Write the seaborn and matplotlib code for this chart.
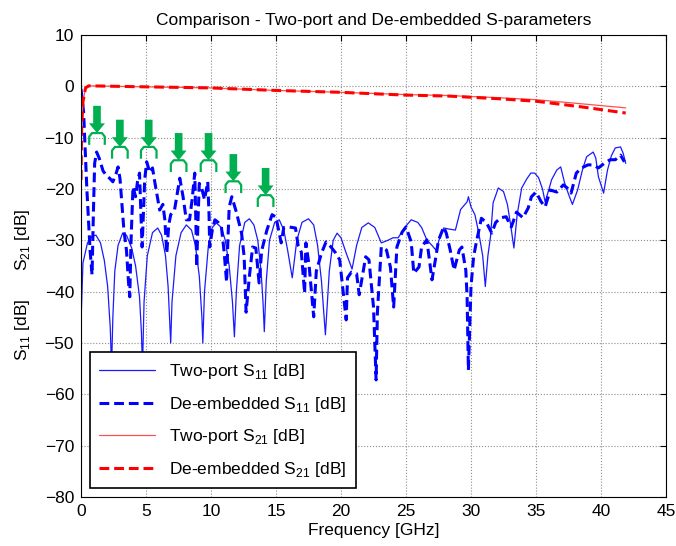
import numpy as np
import pandas as pd
import matplotlib
matplotlib.use("Agg")
import matplotlib.pyplot as plt
import seaborn as sns

# ---------------- data ----------------
f_s11_tp = [0, 0.15, 0.5, 0.85, 1.15, 1.5, 1.8, 2.05, 2.25, 2.35,
            2.45, 2.6, 2.85, 3.2, 3.5, 3.9, 4.2, 4.5, 4.65, 4.73,
            4.85, 5.1, 5.5, 5.9, 6.2, 6.5, 6.7, 6.85, 6.9,
            7.0, 7.3, 7.7, 8.1, 8.5, 8.8, 9.1, 9.3, 9.37,
            9.5, 9.8, 10.1, 10.4, 10.8, 11.1, 11.4, 11.65, 11.8,
            11.95, 12.2, 12.6, 12.95, 13.3, 13.6, 13.85, 14.0, 14.1,
            14.25, 14.5, 14.9, 15.25, 15.6, 15.9, 16.25,
            16.6, 17.0, 17.5, 17.9, 18.2, 18.5, 18.8, 19.1, 19.4, 19.7,
            20.0, 20.4, 20.85, 21.2, 21.6, 22.1, 22.6, 23.1, 23.6, 24.0,
            24.4, 24.9, 25.4, 25.9, 26.2, 26.6, 27.0, 27.3, 27.6, 27.9,
            28.3, 28.8, 29.2, 29.7, 29.8, 30.0, 30.3, 30.6, 30.9, 31.1,
            31.3, 31.5, 31.7, 32.1, 32.5, 32.8, 33.05, 33.3, 33.55, 33.9,
            34.3, 34.6, 34.9, 35.2, 35.5, 35.7, 36.0, 36.2, 36.6, 36.9,
            37.2, 37.5, 37.8, 38.2, 38.6, 38.9, 39.4, 39.6, 39.8, 40.2,
            40.5, 40.8, 41.1, 41.5, 41.7, 41.9]
db_s11_tp = [-46, -34.4, -30.5, -29.2, -29.0, -30.5, -34, -39, -47, -55,
             -45, -36, -31, -28.6, -29, -31.5, -35, -41, -48, -55,
             -42, -33, -28.5, -27.6, -29, -33, -39, -47, -50,
             -42, -33, -28.5, -27, -28, -31, -37, -45, -50,
             -40, -31, -27.5, -26.6, -27.5, -30, -35, -42, -48.8,
             -40, -31, -26.5, -25.8, -27, -30, -36, -42, -47.8,
             -38, -30, -26.5, -26, -28, -32, -37.3,
             -30, -26.5, -25.8, -27, -31, -38, -48.4, -36, -30, -28.6,
             -29.5, -32.5, -35.6, -31, -27.5, -26.6, -27.5, -30.5, -30, -29.5,
             -29.5, -27.5, -26, -26.5, -27.5, -29.9, -31, -31.9, -29.5, -27.6,
             -27.8, -28, -24, -22.5, -21.5, -23.5, -25, -28.6, -33, -39,
             -33, -29.3, -22.7, -19.8, -20.5, -23, -27, -31.5, -25, -19.8,
             -18, -16.9, -16.9, -17.8, -20, -22.5, -20, -18.2, -16.3, -15.7,
             -18.8, -21, -23, -20.2, -16, -13.7, -12.8, -14, -17.6, -20.8,
             -16.3, -13.5, -12, -11.8, -13, -15]

f_s11_de = [0, 0.2, 0.45, 0.7, 0.85, 0.95, 1.05, 1.2, 1.4, 1.7, 2.0, 2.2, 2.45, 2.7,
            2.85, 3.0, 3.15, 3.3, 3.5, 3.65, 3.75, 3.85, 4.0, 4.2, 4.35, 4.5, 4.6,
            4.7, 4.8, 4.9, 5.05, 5.3, 5.5, 5.7, 6.05, 6.3, 6.45, 6.6, 6.75, 6.9,
            7.2, 7.4, 7.6, 7.85, 8.1, 8.35, 8.55, 8.75, 8.85, 8.9, 9.0, 9.1, 9.3,
            9.5, 9.75, 9.85, 9.9, 10.1, 10.3, 10.55, 10.8, 11.0, 11.2, 11.3, 11.4,
            11.6, 11.95, 12.35, 12.55, 12.7, 12.95, 13.2, 13.45, 13.7, 13.9, 14.3,
            14.7, 15.0, 15.4, 15.6, 15.85, 16.0, 16.5, 16.7, 16.95, 17.2, 17.3,
            17.55, 17.9, 18.1, 18.5, 18.85, 19.2, 19.6, 19.9, 20.4, 20.5, 20.8,
            21.2, 21.4, 21.9, 22.15, 22.5, 22.7, 22.8, 23.1, 23.5, 23.8, 24.05,
            24.3, 24.7, 25.0, 25.4, 25.6, 26.0, 26.2, 26.6, 27.0, 27.3, 27.5,
            27.9, 28.1, 28.4, 28.7, 29.1, 29.3, 29.6, 29.7, 29.8, 30.0, 30.2,
            30.4, 30.8, 31.2, 31.6, 31.9, 32.3, 32.7, 33.1, 33.5, 34.0, 34.4,
            34.65, 35.0, 35.4, 35.7, 36.1, 36.6, 37.1, 37.4, 37.7, 38.1, 38.5,
            39.0, 39.4, 39.8, 40.3, 40.7, 41.1, 41.5, 41.8]
db_s11_de = [-0.5, -5, -20, -32, -36.7, -25, -15, -12.8, -14, -16.5, -17.5, -17.9, -18.6, -17,
             -15.7, -18, -23, -28, -32, -38, -41, -30, -19.6, -21.5, -18.5, -16.9, -24,
             -31.3, -25, -18.2, -14.7, -16.8, -15.9, -19, -24.1, -23, -26, -32.5, -27, -25,
             -24, -21, -17.9, -21.5, -26, -26, -22, -16.9, -28, -35.2, -26, -18.9, -20,
             -22.1, -18.6, -25, -31.3, -28, -26, -26.5, -27.4, -32, -38.1, -30, -23.5,
             -21.5, -24.5, -28.6, -33.2, -44, -37.1, -31.3, -31.5, -38.3, -32, -28,
             -25, -25.5, -30.5, -27.5, -27.4, -27.4, -27.6, -31, -32.3, -40.3, -30.5,
             -35, -44.9, -36, -32.5, -30.3, -31.2, -32.5, -33.8, -45.5, -37.3, -36.2,
             -36.5, -40.6, -33.2, -33.8, -43, -57.2, -44, -31.3, -31.9, -35.2, -43,
             -31.3, -28.4, -27.4, -30.3, -36.4, -35.2, -31.3, -29.9, -37.7, -33.2, -30,
             -27.4, -28.6, -31.9, -35.8, -31.9, -31.3, -35.8, -41, -55.3, -39, -33.2,
             -30.5, -25.7, -26.6, -28.6, -26.5, -25.6, -25.4, -27.4, -24.5, -25.6, -23.7,
             -21.5, -20.6, -22.5, -23.5, -20.2, -20.6, -19.2, -19.8, -20.8, -16.9, -15.9,
             -15.3, -15.3, -15.9, -14.9, -14.3, -14.3, -13.4, -14.7]

f_s21_tp = [0, 0.05, 0.15, 0.35, 0.6, 5, 9.9, 15, 19.8, 24.9, 28.3, 32, 35, 38.5, 41.9]
db_s21_tp = [-18.2, -8, -3, -0.3, 0.1, -0.1, -0.3, -0.8, -1.15, -1.6, -1.8, -2.2, -2.6, -3.4, -4.2]

f_s21_de = [0, 0.05, 0.15, 0.35, 0.6, 5, 9.9, 15, 19.8, 24.9, 28.3, 32, 35, 38.5, 41.9]
db_s21_de = [-18.2, -8, -3, -0.3, 0.1, -0.1, -0.3, -0.8, -1.15, -1.7, -1.9, -2.4, -2.9, -4.0, -5.2]

arrow_f = [1.23, 2.99, 5.21, 7.51, 9.81, 11.72, 14.2]
arrow_top = [-3.8, -6.5, -6.5, -9.1, -9.1, -13.2, -15.9]

labels = ["Two-port S$_{11}$ [dB]", "De-embedded S$_{11}$ [dB]",
          "Two-port S$_{21}$ [dB]", "De-embedded S$_{21}$ [dB]"]

# ---------------- figure ----------------
sns.set_theme(style="white")
plt.rcParams['font.family'] = ['Liberation Sans', 'DejaVu Sans']
plt.rcParams['mathtext.fontset'] = 'custom'
plt.rcParams['mathtext.rm'] = 'Liberation Sans'
for k in ['text.color', 'axes.labelcolor', 'xtick.color', 'ytick.color']:
    plt.rcParams[k] = 'black'

FS = 12.5
fig = plt.figure(figsize=(6.76, 5.46), dpi=100)
ax = fig.add_axes([81/676, 1-497/546, 585/676, 462/546])

green = "#00b050"
sns.lineplot(x=f_s11_tp, y=db_s11_tp, ax=ax, color="#1a1aff", lw=0.9, sort=False,
             estimator=None, label=labels[0])
sns.lineplot(x=f_s11_de, y=db_s11_de, ax=ax, color="#0000ff", lw=2.2, sort=False,
             estimator=None, label=labels[1])
sns.lineplot(x=f_s21_tp, y=db_s21_tp, ax=ax, color="#ff5050", lw=0.9, sort=False,
             estimator=None, label=labels[2])
sns.lineplot(x=f_s21_de, y=db_s21_de, ax=ax, color="#ff0000", lw=2.2, sort=False,
             estimator=None, label=labels[3])
lines = ax.get_lines()
lines[1].set_linestyle((0, (3.2, 1.6)))
lines[3].set_linestyle((0, (3.2, 1.6)))

# green arrows + brackets
for xf, top in zip(arrow_f, arrow_top):
    tip = top - 5.3
    ax.annotate("", xy=(xf, tip), xytext=(xf, top),
                arrowprops=dict(facecolor=green, edgecolor="none", width=5.5,
                                headwidth=11.5, headlength=7, shrink=0))
    w, r, h = 0.6, 0.22, 2.3
    bx = [xf - w, xf - w, xf - w + r, xf + w - r, xf + w, xf + w]
    by = [tip - h, tip - 0.7, tip, tip, tip - 0.7, tip - h]
    ax.plot(bx, by, color=green, lw=1.6, solid_capstyle="butt")

ax.set_xlim(0, 45)
ax.set_ylim(-80, 10)
ax.set_xticks(np.arange(0, 46, 5))
ax.set_yticks(np.arange(-80, 11, 10))
ax.grid(True, color="#8c8c8c", linestyle=":", linewidth=0.8)
ax.tick_params(direction="in", top=True, right=True, length=4, width=0.8,
               labelsize=FS, pad=5, colors="black")
for s in ax.spines.values():
    s.set_color("black")
    s.set_linewidth(0.8)

ax.set_title("Comparison - Two-port and De-embedded S-parameters", fontsize=FS, pad=7)
ax.set_xlabel("Frequency [GHz]", fontsize=FS, labelpad=3)
ax.set_ylabel("")
fig.text(22/676, 1-240/546, "S$_{21}$ [dB]", rotation=90, ha="center", va="center", fontsize=FS)
fig.text(22/676, 1-330/546, "S$_{11}$ [dB]", rotation=90, ha="center", va="center", fontsize=FS)

leg = ax.legend(loc="lower left", bbox_to_anchor=(0.015, 0.019), borderaxespad=0,
                fontsize=FS, handlelength=3.2, labelspacing=0.78, borderpad=0.55,
                handletextpad=0.8, fancybox=False, frameon=True, framealpha=1,
                edgecolor="black")
leg.get_frame().set_linewidth(1.2)

fig.savefig("out.png", dpi=100)
